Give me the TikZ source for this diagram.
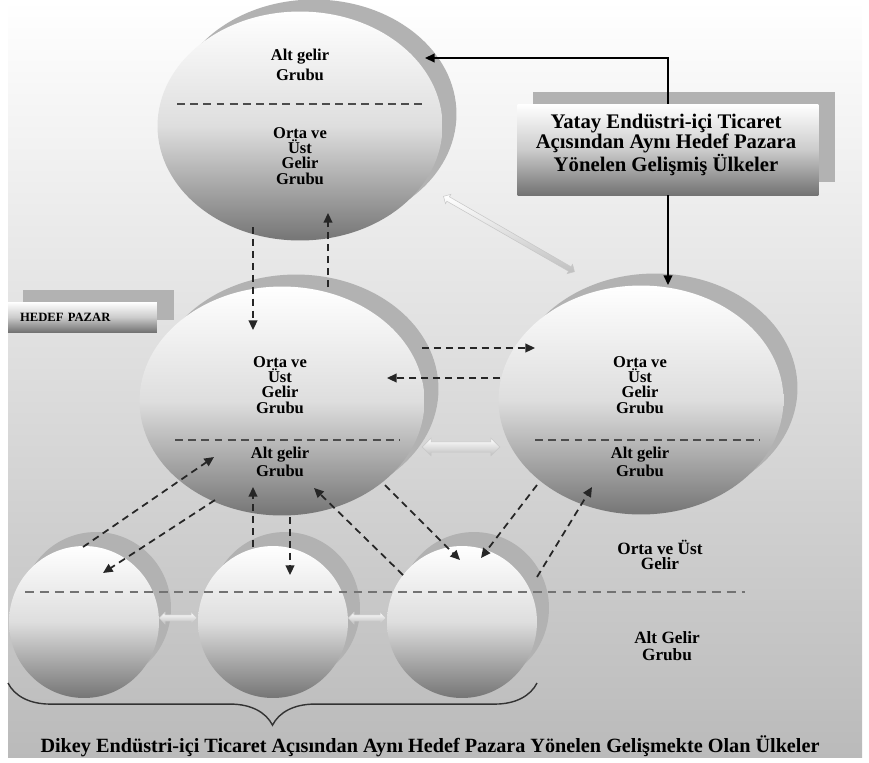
\documentclass[tikz,border=0pt]{standalone}
\usepackage{fontspec}
\setmainfont{Liberation Serif}
\usetikzlibrary{arrows.meta,shapes.geometric,shapes.arrows,decorations.pathreplacing,positioning}

\begin{document}
\begin{tikzpicture}
[x=0.02cm, y=-0.02cm, >={Triangle[length=5.5pt,width=5pt]},
rim/.style={ellipse, draw=none, fill=black!30, inner sep=0pt},
body/.style={ellipse, draw=none, inner sep=0pt, top color=white, bottom color=black!54, middle color=black!13},
bigel/.style={minimum width=5.7cm, minimum height=4.58cm},
smallel/.style={minimum width=3cm, minimum height=3.04cm},
shadowbox/.style={rectangle, draw=none, fill=black!30, inner sep=0pt},
frontbox/.style={rectangle, draw=none, inner sep=0pt, top color=white, bottom color=black!55, middle color=black!20},
lbl/.style={align=center, inner sep=0pt, font=\bfseries\fontsize{9.4}{8.6}\selectfont},
divider/.style={line width=0.8pt, draw=black!70, dash pattern=on 4.5pt off 3pt},
dashedarrow/.style={->, line width=1pt, draw=black!85, dash pattern=on 4pt off 2.8pt},
dblarrow/.style={double arrow, inner xsep=0pt, draw=black!22, line width=0.3pt, top color=white, bottom color=black!25, double arrow head indent=0pt}]

\useasboundingbox (0,0) rectangle (869,762);
\shade[top color=white, bottom color=black!27] (8,0) rectangle (862,757);

\node[rim,bigel] (toprim) at (314,114) {};
\node[body,bigel] (topel) at (300,126) {};
\node[rim,bigel] (leftrim) at (296,389) {};
\node[body,bigel] (leftel) at (282,401) {};
\node[rim,bigel] (rightrim) at (655,388) {};
\node[body,bigel] (rightel) at (641,400) {};

\node[rim,smallel] (rim1) at (96,608) {};
\node[body,smallel] (low1) at (84,622) {};
\node[rim,smallel] (rim2) at (285,608) {};
\node[body,smallel] (low2) at (273,622) {};
\node[rim,smallel] (rim3) at (474,608) {};
\node[body,smallel] (low3) at (462,622) {};

\node[shadowbox, minimum width=6.04cm, minimum height=1.8cm] (yatayshadow) at (684,137) {};
\node[frontbox, minimum width=6.02cm, minimum height=1.82cm] (yatay) at (668,149.5) {};
\node[align=center, inner sep=0pt, font=\bfseries\fontsize{11.8}{11.4}\selectfont] (yataytext) at (666,145)
  {Yatay Endüstri-içi Ticaret\\Açısından Aynı Hedef Pazara\\Yönelen Gelişmiş Ülkeler};

\node[shadowbox, minimum width=3.02cm, minimum height=0.6cm] (hedefshadow) at (98.5,305) {};
\node[frontbox, minimum width=2.98cm, minimum height=0.6cm, text width=2.5cm, align=left, font=\bfseries\fontsize{7.2}{8}\selectfont] (hedef) at (82.5,317) {HEDEF PAZAR};

\draw[divider] (177,104) -- (423,104);
\draw[divider] (175,440) -- (400,440);
\draw[divider] (535,440) -- (760,440);
\draw[line width=1.3pt, draw=black!55, dash pattern=on 5pt off 3.5pt] (25,592) -- (745,592);

\node[lbl] (topalt) at (300,65) {Alt gelir\\[2.8pt]Grubu};
\node[lbl] (topust) at (300,156) {Orta ve\\Üst\\Gelir\\Grubu};
\node[lbl] (leftust) at (280,385) {Orta ve\\Üst\\Gelir\\Grubu};
\node[lbl] (leftalt) at (280,462) {Alt gelir\\[1.7pt]Grubu};
\node[lbl] (rightust) at (640,385) {Orta ve\\Üst\\Gelir\\Grubu};
\node[lbl] (rightalt) at (640,462) {Alt gelir\\[1.7pt]Grubu};
\node[lbl, font=\bfseries\fontsize{9.8}{9}\selectfont] (ustgelir) at (660,555) {Orta ve Üst\\Gelir};
\node[lbl, font=\bfseries\fontsize{9.8}{9.5}\selectfont] (altgelir) at (667,646) {Alt Gelir\\Grubu};

\coordinate (brR) at (537,683);
\coordinate (brL) at (8,683);
\draw[decorate, decoration={brace, amplitude=24pt}, line width=0.8pt, draw=black!80] (brR) -- (brL);
\node[lbl, font=\bfseries\fontsize{11.5}{11.5}\selectfont] (dikey) at (430,746)
  {Dikey Endüstri-içi Ticaret Açısından Aynı Hedef Pazara Yönelen Gelişmekte Olan Ülkeler};

\coordinate (topin) at (425,58);
\coordinate (rightin) at (668,285);
\draw[->, line width=0.9pt] (yatay.north) |- (topin);
\draw[->, line width=0.9pt] (yatay.south) -- (rightin);

\coordinate (downA) at (253,227);
\coordinate (downB) at (253,330);
\coordinate (upA) at (328,287);
\coordinate (upB) at (328,213);
\draw[dashedarrow] (downA) -- (downB);
\draw[dashedarrow] (upA) -- (upB);

\coordinate (rightA) at (422,348);
\coordinate (rightB) at (535,348);
\coordinate (leftA) at (500,378);
\coordinate (leftB) at (387,378);
\draw[dashedarrow] (rightA) -- (rightB);
\draw[dashedarrow] (leftA) -- (leftB);

\node[dblarrow, minimum height=86pt, inner ysep=1.3pt, double arrow head extend=1.6pt, rotate=-29.9] (diagarrow) at (509,234) {};
\node[dblarrow, minimum height=44pt, inner ysep=2.8pt, double arrow head extend=2pt] (midarrow) at (461,447) {};
\node[dblarrow, minimum height=21.5pt, inner ysep=1.6pt, double arrow head extend=1.6pt] (pairarrow1) at (178,618) {};
\node[dblarrow, minimum height=21.5pt, inner ysep=1.6pt, double arrow head extend=1.6pt] (pairarrow2) at (367,618) {};

\coordinate (a1) at (83,547);
\coordinate (a2) at (214,457);
\coordinate (b1) at (215,500);
\coordinate (b2) at (103,573);
\coordinate (c1) at (253,547);
\coordinate (c2) at (253,487);
\coordinate (d1) at (290,517);
\coordinate (d2) at (290,575);
\coordinate (e1) at (403,575);
\coordinate (e2) at (314,488);
\coordinate (f1) at (385,485);
\coordinate (f2) at (460,560);
\coordinate (g1) at (537,485);
\coordinate (g2) at (481,558);
\coordinate (h1) at (537,577);
\coordinate (h2) at (592,487);
\draw[dashedarrow] (a1) -- (a2);
\draw[dashedarrow] (b1) -- (b2);
\draw[dashedarrow] (c1) -- (c2);
\draw[dashedarrow] (d1) -- (d2);
\draw[dashedarrow] (e1) -- (e2);
\draw[dashedarrow] (f1) -- (f2);
\draw[dashedarrow] (g1) -- (g2);
\draw[dashedarrow] (h1) -- (h2);

\end{tikzpicture}
\end{document}
